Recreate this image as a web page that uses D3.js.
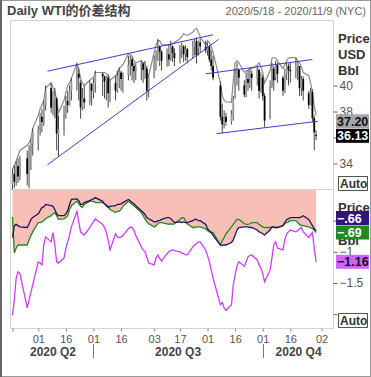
<!DOCTYPE html>
<html>
<head>
<meta charset="utf-8">
<script src="https://cdn.jsdelivr.net/npm/d3@7"></script>
<style>
body { margin: 0; background: #fff; }
svg { display: block; font-family: "Liberation Sans", Arial, "Noto Sans CJK SC", sans-serif; }
</style>
</head>
<body>
<script>
// trading days May 18 - Oct 30 2020 (weekdays, US holidays removed)
var startDate = "2020-05-18";
var endDate = "2020-10-31";
var holidays = ["2020-05-25", "2020-07-03", "2020-09-07"];

// daily WTI candles, one value per trading day (May | Jun | Jul | Aug | Sep | Oct)
var openP = [
  32.4,33.2,32.6,33.8,33.0,34.4,33.2,34.8,35.5,
  35.6,36.6,37.6,37.2,38.5,39.8,38.3,38.9,39.0,36.3,36.6,37.9,38.8,38.5,39.6,40.3,40.9,40.2,38.3,39.0,38.7,40.1,
  39.6,40.2,40.9,40.7,40.3,40.6,39.4,40.2,39.6,40.7,41.0,40.5,40.8,41.6,42.0,41.5,41.1,41.4,41.7,41.2,41.3,39.6,
  40.6,41.9,42.4,43.0,42.6,41.9,42.4,42.0,43.0,42.5,42.1,42.8,43.0,42.4,42.8,42.2,43.0,43.4,42.9,43.3,43.0,
  42.7,43.0,42.0,41.5,40.0,37.6,37.0,37.6,37.2,37.6,39.2,40.9,41.2,40.0,39.3,40.5,40.2,40.9,40.6,41.2,39.6,
  40.6,39.2,37.6,40.0,41.3,40.6,41.6,40.6,39.6,40.9,41.5,41.2,41.1,41.4,41.5,39.8,40.5,39.4,38.5,39.5,37.5,36.2
];
var highP = [
  33.6,33.85,34.2,34.4,34.6,35.0,35.4,35.9,36.7,
  36.9,37.9,38.2,38.85,40.0,40.2,39.6,39.8,39.1,37.7,38.45,39.2,39.6,40.0,40.55,41.7,41.3,40.4,39.8,40.0,40.4,40.2,
  40.55,41.15,41.0,40.75,40.75,40.8,40.4,40.75,41.15,41.4,41.15,41.0,42.3,42.3,42.2,41.75,41.7,41.9,41.75,41.9,41.5,40.75,
  42.3,42.7,43.6,43.1,42.7,42.85,43.1,43.45,43.1,42.85,43.1,43.3,43.1,43.1,42.9,43.45,43.6,43.7,43.45,43.6,43.45,
  43.3,43.1,42.7,42.3,40.3,38.6,38.1,37.9,38.1,39.2,41.3,41.75,41.3,40.4,41.0,41.15,41.3,41.15,41.5,41.3,41.0,
  40.8,39.4,40.4,41.75,41.5,41.9,41.75,40.75,41.3,41.75,41.7,41.75,42.1,41.9,41.5,40.75,40.7,39.6,39.8,39.7,37.7,36.55
];
var lowP = [
  31.8,32.1,32.3,32.5,32.7,32.3,32.1,33.5,34.6,
  35.0,36.15,36.4,36.9,38.1,37.9,37.7,37.5,35.0,34.5,36.15,37.45,37.9,38.45,38.85,39.6,38.85,37.45,38.1,38.2,38.5,38.45,
  39.0,39.45,39.2,39.0,38.85,38.3,38.7,38.85,39.45,39.8,39.6,39.45,40.4,40.75,40.4,40.2,40.4,40.4,40.2,40.5,38.85,39.1,
  40.55,41.15,41.9,41.5,41.15,41.45,41.5,41.9,41.8,41.5,41.7,42.1,41.8,41.9,41.7,42.1,42.3,41.7,42.3,42.55,42.5,
  42.3,41.8,41.15,40.4,37.3,36.3,36.7,36.9,37.0,37.3,39.0,40.0,39.6,39.1,39.1,39.6,39.8,39.6,40.0,39.0,39.45,
  38.85,36.8,37.4,39.8,39.6,40.4,40.2,39.2,39.4,40.4,40.0,40.2,40.55,40.4,39.2,39.2,38.85,38.2,38.45,37.15,35.0,35.8
];
var closeP = [
  33.2,32.6,33.8,33.0,34.2,33.2,34.8,35.5,36.4,
  36.6,37.6,37.2,38.5,39.6,38.3,38.9,39.2,36.3,36.6,37.9,38.8,38.5,39.6,40.3,40.9,40.6,38.3,39.0,38.7,40.1,39.6,
  40.2,40.9,40.7,40.3,40.6,39.4,40.2,39.6,40.7,41.0,40.5,40.8,41.6,42.0,41.5,41.1,41.4,41.7,41.2,41.7,39.6,40.6,
  41.9,42.4,43.0,42.6,41.9,42.4,42.0,43.0,42.5,42.1,42.8,43.0,42.4,42.8,42.2,43.0,43.4,42.3,43.3,43.0,42.7,
  43.0,42.0,41.5,40.6,37.6,37.0,37.6,37.2,37.8,38.9,40.9,41.2,40.6,39.3,40.5,40.2,40.9,40.6,41.2,39.6,40.6,
  39.2,37.3,39.9,41.3,40.4,41.6,40.9,39.6,40.9,41.5,41.2,41.1,41.4,41.7,39.8,40.5,39.6,38.5,39.5,37.5,36.4,36.13
];
// grey overlay line in the price panel
var greyLine = [
  33.6,33.85,34.2,34.6,35.0,35.4,35.6,35.9,36.7,
  37.7,38.2,38.5,38.85,39.8,40.2,39.85,39.6,38.85,37.9,38.85,39.45,40.0,40.2,40.55,41.7,41.3,40.55,40.2,40.0,40.4,40.55,
  40.6,41.0,41.0,41.0,40.9,40.85,40.4,40.75,41.0,41.3,41.45,41.6,42.45,42.4,42.25,41.9,41.75,41.9,41.75,41.75,41.0,40.75,
  42.55,43.1,43.45,43.45,43.15,43.1,43.1,43.2,43.2,43.3,43.6,43.75,44.0,43.9,43.85,44.1,44.3,44.4,44.1,43.75,43.1,
  43.45,43.3,43.0,42.55,40.2,39.2,38.85,38.75,38.7,40.4,41.75,41.9,41.75,41.0,41.15,41.15,41.3,41.3,41.55,41.75,41.45,
  41.0,40.2,41.15,42.1,42.15,42.1,41.9,41.3,41.6,41.9,42.1,42.15,42.15,41.9,41.75,41.45,41.0,40.75,40.2,39.45,38.45,37.7
];

// spread panel
var spreadDark = [
  -0.77,-0.58,-0.56,-0.58,-0.60,-0.61,-0.55,-0.48,-0.45,
  -0.39,-0.34,-0.29,-0.28,-0.24,-0.26,-0.27,-0.32,-0.39,-0.42,-0.42,-0.39,-0.34,-0.24,-0.16,-0.15,-0.18,-0.24,-0.24,-0.21,-0.18,-0.16,
  -0.15,-0.13,-0.19,-0.23,-0.26,-0.29,-0.27,-0.26,-0.24,-0.24,-0.23,-0.21,-0.16,-0.18,-0.21,-0.23,-0.26,-0.34,-0.37,-0.40,-0.45,-0.47,
  -0.52,-0.52,-0.50,-0.50,-0.48,-0.45,-0.45,-0.47,-0.50,-0.53,-0.52,-0.53,-0.52,-0.53,-0.53,-0.50,-0.48,-0.48,-0.50,-0.50,-0.56,
  -0.63,-0.66,-0.69,-0.74,-0.89,-0.90,-0.89,-0.89,-0.85,-0.81,-0.73,-0.65,-0.61,-0.60,-0.60,-0.60,-0.61,-0.61,-0.65,-0.68,-0.69,
  -0.71,-0.73,-0.65,-0.60,-0.60,-0.61,-0.61,-0.58,-0.53,-0.48,-0.47,-0.45,-0.45,-0.45,-0.45,-0.44,-0.42,-0.48,-0.53,-0.58,-0.63,-0.66
];
var spreadGreen = [
  -0.44,-1.02,-0.94,-0.89,-0.89,-0.89,-0.81,-0.74,-0.68,
  -0.53,-0.53,-0.52,-0.50,-0.47,-0.42,-0.39,-0.37,-0.42,-0.48,-0.47,-0.45,-0.42,-0.32,-0.26,-0.19,-0.23,-0.27,-0.29,-0.24,-0.19,-0.19,
  -0.19,-0.21,-0.21,-0.23,-0.24,-0.27,-0.32,-0.37,-0.35,-0.35,-0.32,-0.27,-0.19,-0.21,-0.24,-0.26,-0.29,-0.37,-0.42,-0.47,-0.52,-0.55,
  -0.60,-0.58,-0.55,-0.53,-0.53,-0.55,-0.56,-0.55,-0.56,-0.55,-0.48,-0.45,-0.45,-0.50,-0.55,-0.61,-0.61,-0.60,-0.60,-0.60,-0.63,
  -0.66,-0.68,-0.69,-0.69,-0.89,-0.82,-0.77,-0.71,-0.60,-0.56,-0.52,-0.48,-0.48,-0.55,-0.56,-0.56,-0.55,-0.53,-0.53,-0.56,-0.58,
  -0.60,-0.61,-0.61,-0.61,-0.61,-0.61,-0.61,-0.58,-0.55,-0.53,-0.52,-0.50,-0.50,-0.53,-0.56,-0.58,-0.58,-0.60,-0.61,-0.63,-0.65,-0.69
];
var spreadMagenta = [
  -2.02,-1.77,-1.42,-1.32,-1.34,-1.90,-1.77,-1.65,-1.53,
  -1.16,-1.18,-1.21,-0.89,-0.76,-0.84,-0.69,-0.89,-1.16,-1.18,-1.10,-0.94,-0.84,-0.73,-0.60,-0.35,-0.52,-0.68,-0.71,-0.73,-0.61,-0.56,
  -0.52,-0.47,-0.56,-0.61,-0.69,-0.81,-0.97,-0.71,-0.76,-0.77,-0.76,-0.74,-0.63,-0.60,-0.61,-0.65,-0.74,-0.92,-0.97,-1.00,-1.08,-1.18,
  -1.21,-1.10,-1.05,-1.10,-1.15,-1.03,-1.00,-0.98,-0.97,-0.98,-1.00,-1.02,-1.03,-1.05,-1.05,-0.92,-0.89,-0.87,-0.84,-0.84,-0.97,
  -1.06,-1.16,-1.29,-1.42,-1.85,-1.81,-1.90,-1.94,-1.85,-1.53,-1.37,-1.23,-1.16,-1.23,-1.16,-1.08,-1.06,-1.05,-1.13,-1.21,-1.26,
  -1.35,-1.48,-1.29,-1.10,-0.89,-0.84,-0.94,-0.97,-0.81,-0.71,-0.68,-0.65,-0.68,-0.66,-0.63,-0.61,-0.68,-0.77,-0.73,-0.69,-0.94,-1.16
];

// drawn channel lines: [date, price] -> [date, price]
var trendLines = [
  [["2020-06-06", 41.1], ["2020-09-04", 43.9]],
  [["2020-06-06", 33.9], ["2020-09-07", 43.55]],
  [["2020-08-31", 40.9], ["2020-10-28", 42.0]],
  [["2020-09-06", 36.3], ["2020-10-31", 37.25]]
];
var trendTag = 37.20;

var dayTicks = ["2020-06-01","2020-06-16","2020-07-01","2020-07-16","2020-08-03","2020-08-17",
                "2020-09-01","2020-09-16","2020-10-01","2020-10-16","2020-11-02"];
var quarters = [
  { label: "2020 Q2", from: "2020-05-18", to: "2020-07-01" },
  { label: "2020 Q3", from: "2020-07-01", to: "2020-10-01" },
  { label: "2020 Q4", from: "2020-10-01", to: "2020-11-09" }
];
var priceTicks = [34, 36, 38, 40];
var spreadTicks = [-2, -1.5, -1, -0.5];
// tick labels that sit under a value tag or button are not printed
var hiddenTicks = [36, -2, -0.5];

var parse = d3.utcParse("%Y-%m-%d");
var fmtDay = d3.utcFormat("%Y-%m-%d");

var days = d3.utcDay.range(parse(startDate), parse(endDate)).filter(function (d) {
  var w = d.getUTCDay();
  return w !== 0 && w !== 6 && holidays.indexOf(fmtDay(d)) < 0;
});

var candles = days.map(function (d, i) {
  return { date: d, o: openP[i], h: highP[i], l: lowP[i], c: closeP[i], g: greyLine[i],
           dark: spreadDark[i], green: spreadGreen[i], mag: spreadMagenta[i] };
});

var W = 371, H = 377;
var left = 10.5, right = 333.5;
var top1 = 20.5, bot1 = 189.5, bot2 = 328.5;

var x = d3.scaleUtc().domain([parse("2020-05-18"), parse("2020-11-09")]).range([12.5, 334.5]);
var y1 = d3.scaleLinear().domain([32, 45]).range([bot1, top1]);
var y2 = d3.scaleLinear().domain([-2.23, 0]).range([bot2, bot1]);

var svg = d3.select("body").append("svg").attr("width", W).attr("height", H);

svg.append("rect").attr("x", 0.5).attr("y", 0.5).attr("width", W - 1).attr("height", H - 1)
  .attr("fill", "#fff").attr("stroke", "#9a9a9a");
svg.append("line").attr("x1", 1).attr("x2", 1).attr("y1", 0).attr("y2", H)
  .attr("stroke", "#666").attr("stroke-width", 2);

// header
svg.append("text").attr("x", 7).attr("y", 15).attr("font-size", 13).attr("font-weight", "bold")
  .attr("fill", "#444").text("Daily WTI的价差结构");
svg.append("text").attr("x", 366).attr("y", 15).attr("font-size", 11).attr("text-anchor", "end")
  .attr("fill", "#666").text("2020/5/18 - 2020/11/9 (NYC)");

var defs = svg.append("defs");
defs.append("clipPath").attr("id", "clip1").append("rect")
  .attr("x", left).attr("y", top1).attr("width", right - left).attr("height", bot1 - top1);
defs.append("clipPath").attr("id", "clip2").append("rect")
  .attr("x", left).attr("y", bot1).attr("width", right - left).attr("height", bot2 - bot1);

// panel frames
svg.append("rect").attr("x", left).attr("y", top1).attr("width", right - left).attr("height", bot1 - top1)
  .attr("fill", "#fff").attr("stroke", "#d4d4d4");
svg.append("rect").attr("x", left).attr("y", bot1).attr("width", right - left).attr("height", bot2 - bot1)
  .attr("fill", "#fff").attr("stroke", "#d4d4d4");

// ---- price panel ----
var p1 = svg.append("g").attr("clip-path", "url(#clip1)");

p1.append("path").datum(candles)
  .attr("fill", "none").attr("stroke", "#8a8a8a").attr("stroke-width", 1.2)
  .attr("d", d3.line().x(function (d) { return x(d.date); }).y(function (d) { return y1(d.g); }));

p1.selectAll("line.wick").data(candles).enter().append("line")
  .attr("class", "wick")
  .attr("x1", function (d) { return x(d.date); })
  .attr("x2", function (d) { return x(d.date); })
  .attr("y1", function (d) { return y1(d.h); })
  .attr("y2", function (d) { return y1(d.l); })
  .attr("stroke", "#333").attr("stroke-width", 0.9);

p1.selectAll("rect.body").data(candles).enter().append("rect")
  .attr("class", "body")
  .attr("x", function (d) { return x(d.date) - 0.9; })
  .attr("width", 1.8)
  .attr("y", function (d) { return y1(Math.max(d.o, d.c)); })
  .attr("height", function (d) { return Math.max(1, Math.abs(y1(d.o) - y1(d.c))); })
  .attr("fill", function (d) { return d.c >= d.o ? "#9a9a9a" : "#000"; });

p1.selectAll("line.trend").data(trendLines).enter().append("line")
  .attr("class", "trend")
  .attr("x1", function (d) { return x(parse(d[0][0])); })
  .attr("y1", function (d) { return y1(d[0][1]); })
  .attr("x2", function (d) { return x(parse(d[1][0])); })
  .attr("y2", function (d) { return y1(d[1][1]); })
  .attr("stroke", "#3c3cd2").attr("stroke-width", 1);

// ---- spread panel ----
var p2 = svg.append("g").attr("clip-path", "url(#clip2)");

p2.append("path").datum(candles)
  .attr("fill", "#f8bfb7")
  .attr("d", d3.area()
    .x(function (d) { return x(d.date); })
    .y0(y2(0))
    .y1(function (d) { return y2(Math.min(d.dark, d.green)); }));

var spreadLine = function (key) {
  return d3.line().x(function (d) { return x(d.date); }).y(function (d) { return y2(d[key]); });
};
p2.append("path").datum(candles).attr("fill", "none").attr("stroke", "#cc3dff").attr("stroke-width", 1.3)
  .attr("d", spreadLine("mag"));
p2.append("path").datum(candles).attr("fill", "none").attr("stroke", "#1f8a1f").attr("stroke-width", 1.3)
  .attr("d", spreadLine("green"));
p2.append("path").datum(candles).attr("fill", "none").attr("stroke", "#24125e").attr("stroke-width", 1.3)
  .attr("d", spreadLine("dark"));

// ---- right axes ----
var styleAxis = function (g) {
  g.select(".domain").remove();
  g.selectAll(".tick line").attr("stroke", "#666");
  g.selectAll(".tick text").attr("fill", "#555").attr("font-size", 12)
    .attr("font-family", "Liberation Sans, Arial, sans-serif");
};
var tickText = function (v) {
  if (hiddenTicks.indexOf(v) >= 0) return "";
  return d3.format("")(v).replace("0.", ".");
};
svg.append("g").attr("transform", "translate(" + right + ",0)")
  .call(d3.axisRight(y1).tickValues(priceTicks).tickSize(4).tickPadding(2).tickFormat(tickText))
  .call(styleAxis);
svg.append("g").attr("transform", "translate(" + right + ",0)")
  .call(d3.axisRight(y2).tickValues(spreadTicks).tickSize(4).tickPadding(2).tickFormat(tickText))
  .call(styleAxis);

var unitLabels = ["Price", "USD", "Bbl"];
svg.selectAll("text.unit1").data(unitLabels).enter().append("text")
  .attr("x", 338).attr("y", function (d, i) { return 43 + i * 16; })
  .attr("font-size", 13).attr("font-weight", "bold").attr("fill", "#333").text(function (d) { return d; });
// in the spread panel only the parts of "Price" and "Bbl" around the tags show
svg.selectAll("text.unit2").data(["Price", "Bbl"]).enter().append("text")
  .attr("x", 338).attr("y", function (d, i) { return i === 0 ? 212 : 245; })
  .attr("font-size", 13).attr("font-weight", "bold").attr("fill", "#333").text(function (d) { return d; });

// value tags at the right edge
var lastC = candles[candles.length - 1];
var tl = trendLines[3];
var f2 = d3.format(".2f");
var tagSets = [
  [
    { y: y1(trendTag), bg: "#a5a5a5", fg: "#111", label: f2(trendTag) },
    { y: y1(lastC.c), bg: "#000", fg: "#fff", label: f2(lastC.c) }
  ],
  [
    { y: y2(lastC.dark), bg: "#35137e", fg: "#fff", label: f2(lastC.dark).replace("0.", ".") },
    { y: y2(lastC.green), bg: "#1f8a1f", fg: "#fff", label: f2(lastC.green).replace("0.", ".") },
    { y: y2(lastC.mag), bg: "#d263ff", fg: "#111", label: f2(lastC.mag) }
  ]
];
tagSets.forEach(function (set) {
  set.sort(function (a, b) { return b.y - a.y; });
  var prev = Infinity;
  set.forEach(function (t) { t.ty = Math.min(t.y, prev - 14.5); prev = t.ty; });
  var g = svg.append("g");
  g.selectAll("rect").data(set).enter().append("rect")
    .attr("x", 336).attr("y", function (d) { return d.ty - 7; })
    .attr("width", 33).attr("height", 14)
    .attr("fill", function (d) { return d.bg; });
  g.selectAll("text").data(set).enter().append("text")
    .attr("x", 337).attr("y", function (d) { return d.ty + 4.5; })
    .attr("font-size", 12.5).attr("font-weight", "bold")
    .attr("fill", function (d) { return d.fg; }).text(function (d) { return d.label; });
});

// Auto buttons
[bot1 - 13, bot2 - 15].forEach(function (yy) {
  svg.append("rect").attr("x", 338.5).attr("y", yy).attr("width", 29).attr("height", 14)
    .attr("fill", "#fff").attr("stroke", "#555");
  svg.append("text").attr("x", 340).attr("y", yy + 11.5).attr("font-size", 12).attr("font-weight", "bold")
    .attr("fill", "#333").text("Auto");
});

// ---- time axis ----
var xAxis = svg.append("g").attr("transform", "translate(0," + bot2 + ")")
  .call(d3.axisBottom(x).tickValues([parse("2020-05-18")].concat(dayTicks.map(parse)))
    .tickSize(3).tickPadding(4)
    .tickFormat(function (d) { return fmtDay(d) === "2020-05-18" ? "" : d3.utcFormat("%d")(d); }));
xAxis.select(".domain").remove();
xAxis.selectAll(".tick line").attr("stroke", "#888");
xAxis.selectAll(".tick text").attr("fill", "#555").attr("font-size", 11)
  .attr("font-family", "Liberation Sans, Arial, sans-serif");

svg.selectAll("text.quarter").data(quarters).enter().append("text")
  .attr("class", "quarter")
  .attr("x", function (d) { return (x(parse(d.from)) + x(parse(d.to))) / 2; })
  .attr("y", 356).attr("text-anchor", "middle")
  .attr("font-size", 12).attr("font-weight", "bold").attr("fill", "#444")
  .text(function (d) { return d.label; });
svg.selectAll("line.qsep").data(quarters.slice(1)).enter().append("line")
  .attr("class", "qsep")
  .attr("x1", function (d) { return Math.round(x(parse(d.from))) + 0.5; })
  .attr("x2", function (d) { return Math.round(x(parse(d.from))) + 0.5; })
  .attr("y1", 344).attr("y2", 358).attr("stroke", "#777");
</script>
</body>
</html>
